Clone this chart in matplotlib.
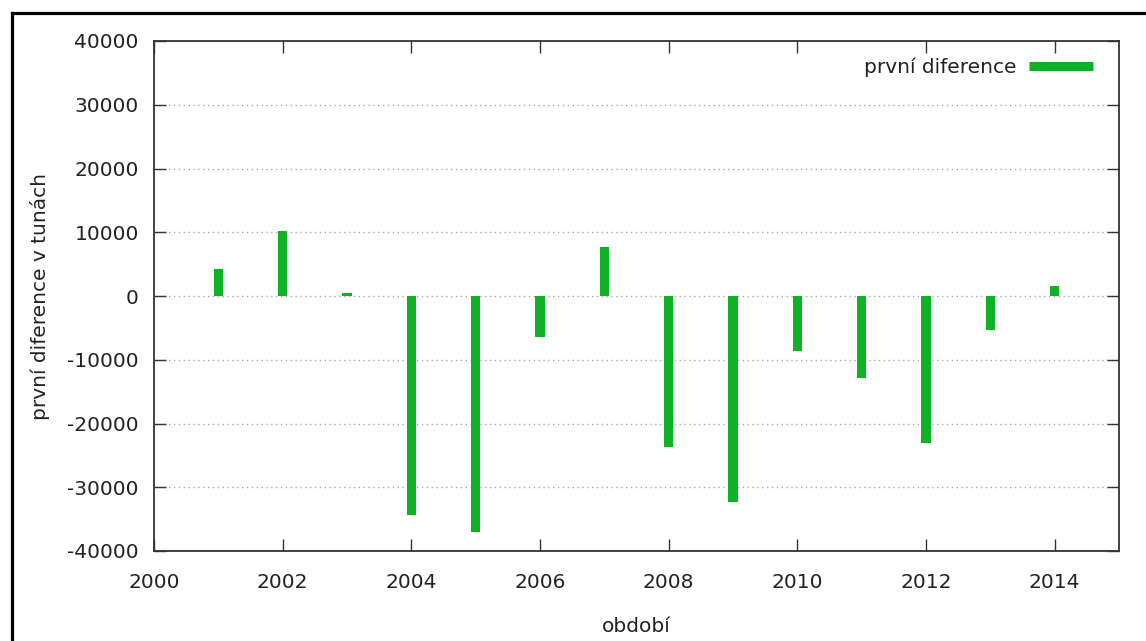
import matplotlib
matplotlib.use("Agg")
import matplotlib.pyplot as plt
from matplotlib.lines import Line2D

# yearly first differences (tonnes)
years = [2001, 2002, 2003, 2004, 2005, 2006, 2007, 2008, 2009, 2010, 2011, 2012, 2013, 2014]
diffs = [4300, 10200, 400, -34400, -37000, -6500, 7700, -23700, -32300, -8600, -12900, -23100, -5400, 1600]

x_ticks = list(range(2000, 2015, 2))
y_ticks = list(range(-40000, 40001, 10000))

green = '#0db324'
plt.rcParams['font.family'] = ['DejaVu Sans']

fig = plt.figure(figsize=(11.46, 6.41), dpi=100)
ax = fig.add_axes([154 / 1146, 90 / 641, 965 / 1146, 510 / 641])

# impulses drawn as thin bars
ax.bar(years, diffs, width=0.14, color=green, zorder=3)

ax.set_xlim(2000, 2015)
ax.set_ylim(-40000, 40000)
ax.set_xticks(x_ticks)
ax.set_yticks(y_ticks)
ax.set_xticklabels([str(t) for t in x_ticks])
ax.set_yticklabels([str(t) for t in y_ticks])

# dotted horizontal grid only
for y in y_ticks[1:-1]:
    ax.axhline(y, color='#a8a8a8', lw=1.0, ls=(0, (1, 2.5)), zorder=1)

ax.tick_params(direction='in', length=8.5, width=1.0, color='#333333',
               top=True, right=True, labelsize=14.5, labelcolor='#222222')
ax.tick_params(axis='x', pad=16)
ax.tick_params(axis='y', pad=11)
for sp in ax.spines.values():
    sp.set_linewidth(1.3)
    sp.set_color('#333333')

ax.set_xlabel('období', fontsize=14.5, color='#222222', labelpad=18)
ax.set_ylabel('první diference v tunách', fontsize=14.5, color='#222222', labelpad=12)

handle = Line2D([], [], color=green, lw=6.5, solid_capstyle='butt')
ax.legend([handle], ['první diference'], loc='upper right', bbox_to_anchor=(0.973, 0.967),
          frameon=False, markerfirst=False, fontsize=14.5, handlelength=3.2,
          handletextpad=0.6, borderpad=0, borderaxespad=0, labelcolor='#222222')

# outer black frame (left and top edges)
top_y = 1 - 12.5 / 641
left_x = 11.5 / 1146
fig.add_artist(Line2D([left_x, left_x], [0, top_y], transform=fig.transFigure,
                      color='black', lw=2.3, solid_capstyle='projecting'))
fig.add_artist(Line2D([left_x, 1], [top_y, top_y], transform=fig.transFigure,
                      color='black', lw=2.3, solid_capstyle='projecting'))

fig.savefig('out.png', dpi=100)
